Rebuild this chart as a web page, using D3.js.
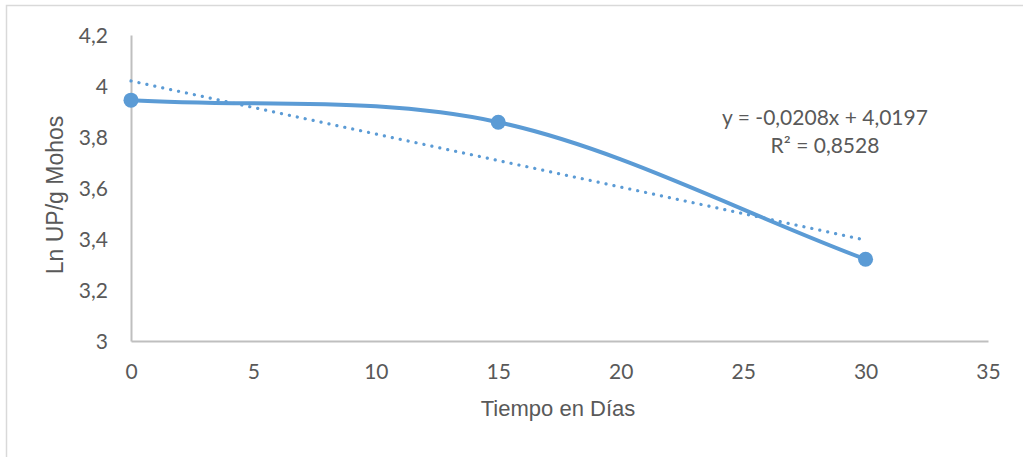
<!DOCTYPE html>
<html>
<head>
<meta charset="utf-8">
<script src="https://cdn.jsdelivr.net/npm/d3@7"></script>
<style>
  html, body { margin: 0; padding: 0; background: #fff; }
  svg { display: block; }
</style>
</head>
<body>
<svg id="chart" width="1023" height="457"></svg>
<script>
// Mold counts (Ln UP/g) over storage time
const days = [0, 15, 30];
const lnMohos = [3.9445, 3.858, 3.3205];

// Linear trendline shown on the chart
const trendSlope = -0.0208;
const trendIntercept = 4.0197;
const trendR2 = 0.8528;
const trendLabel = ["y = -0,0208x + 4,0197", "R² = 0,8528"];

const xTicks = [0, 5, 10, 15, 20, 25, 30, 35];
const yTicks = [3, 3.2, 3.4, 3.6, 3.8, 4, 4.2];

const blue = "#5B9BD5";
const axisGray = "#BFBFBF";
const textGray = "#595959";
const fmt = v => String(+v.toFixed(1)).replace(".", ",");

const svg = d3.select("#chart");

// outer chart frame
svg.append("rect")
  .attr("x", 6.5).attr("y", 5.5)
  .attr("width", 1030).attr("height", 470)
  .attr("fill", "#fff").attr("stroke", "#D9D9D9").attr("stroke-width", 1.5);

const x = d3.scaleLinear().domain([0, 35]).range([131, 988]);
const y = d3.scaleLinear().domain([3, 4.2]).range([341, 35]);

// axes
const xAxis = d3.axisBottom(x).tickValues(xTicks).tickSize(0).tickPadding(23).tickFormat(fmt);
const yAxis = d3.axisLeft(y).tickValues(yTicks).tickSize(0).tickPadding(23).tickFormat(fmt);

const gx = svg.append("g").attr("transform", `translate(0,${y(3)})`).call(xAxis);
const gy = svg.append("g").attr("transform", `translate(${x(0)},0)`).call(yAxis);

[gx, gy].forEach(g => {
  g.select(".domain").attr("stroke", axisGray).attr("stroke-width", 2);
  g.selectAll("text")
    .attr("fill", textGray)
    .style("font-family", "Lato, 'Open Sans', sans-serif")
    .style("font-size", "21px");
});
gx.selectAll("text").attr("dy", "0.71em");
gy.selectAll("text").attr("dy", "0.36em");

// axis titles
svg.append("text")
  .attr("x", 558).attr("y", 416)
  .attr("text-anchor", "middle")
  .attr("fill", textGray)
  .style("font-family", "'Liberation Sans', Arial, sans-serif")
  .style("font-size", "22px")
  .text("Tiempo en Días");

svg.append("text")
  .attr("transform", `translate(63,195) rotate(-90)`)
  .attr("text-anchor", "middle")
  .attr("fill", textGray)
  .style("font-family", "'Liberation Sans', Arial, sans-serif")
  .style("font-size", "23px")
  .text("Ln UP/g Mohos");

// trendline (dotted)
const trendPts = [days[0], days[days.length - 1]].map(d => [d, trendSlope * d + trendIntercept]);
svg.append("path")
  .datum(trendPts)
  .attr("fill", "none")
  .attr("stroke", blue)
  .attr("stroke-width", 3.2)
  .attr("stroke-linecap", "round")
  .attr("stroke-dasharray", "0.1 8")
  .attr("d", d3.line().x(d => x(d[0])).y(d => y(d[1])));

// smoothed data line: cubic Hermite segments with central-difference
// tangents at inner points and secant tangents at both ends
const n = days.length;
const tangent = days.map((d, i) => {
  const a = Math.max(0, i - 1), b = Math.min(n - 1, i + 1);
  return (lnMohos[b] - lnMohos[a]) / (days[b] - days[a]);
});

const smooth = d3.path();
smooth.moveTo(x(days[0]), y(lnMohos[0]));
for (let i = 0; i < n - 1; i++) {
  const h = days[i + 1] - days[i];
  smooth.bezierCurveTo(
    x(days[i] + h / 3), y(lnMohos[i] + tangent[i] * h / 3),
    x(days[i + 1] - h / 3), y(lnMohos[i + 1] - tangent[i + 1] * h / 3),
    x(days[i + 1]), y(lnMohos[i + 1])
  );
}
svg.append("path")
  .attr("fill", "none")
  .attr("stroke", blue)
  .attr("stroke-width", 4)
  .attr("stroke-linecap", "round")
  .attr("d", smooth.toString());

// markers
const pts = days.map((d, i) => [d, lnMohos[i]]);
svg.append("g").selectAll("circle")
  .data(pts)
  .join("circle")
  .attr("cx", d => x(d[0]))
  .attr("cy", d => y(d[1]))
  .attr("r", 7.5)
  .attr("fill", blue);

// trendline equation
svg.append("text")
  .attr("text-anchor", "middle")
  .attr("fill", textGray)
  .style("font-family", "Lato, 'Open Sans', sans-serif")
  .style("font-size", "21px")
  .selectAll("tspan")
  .data(trendLabel)
  .join("tspan")
  .attr("x", 825)
  .attr("y", (d, i) => 125 + i * 28)
  .text(d => d);
</script>
</body>
</html>
